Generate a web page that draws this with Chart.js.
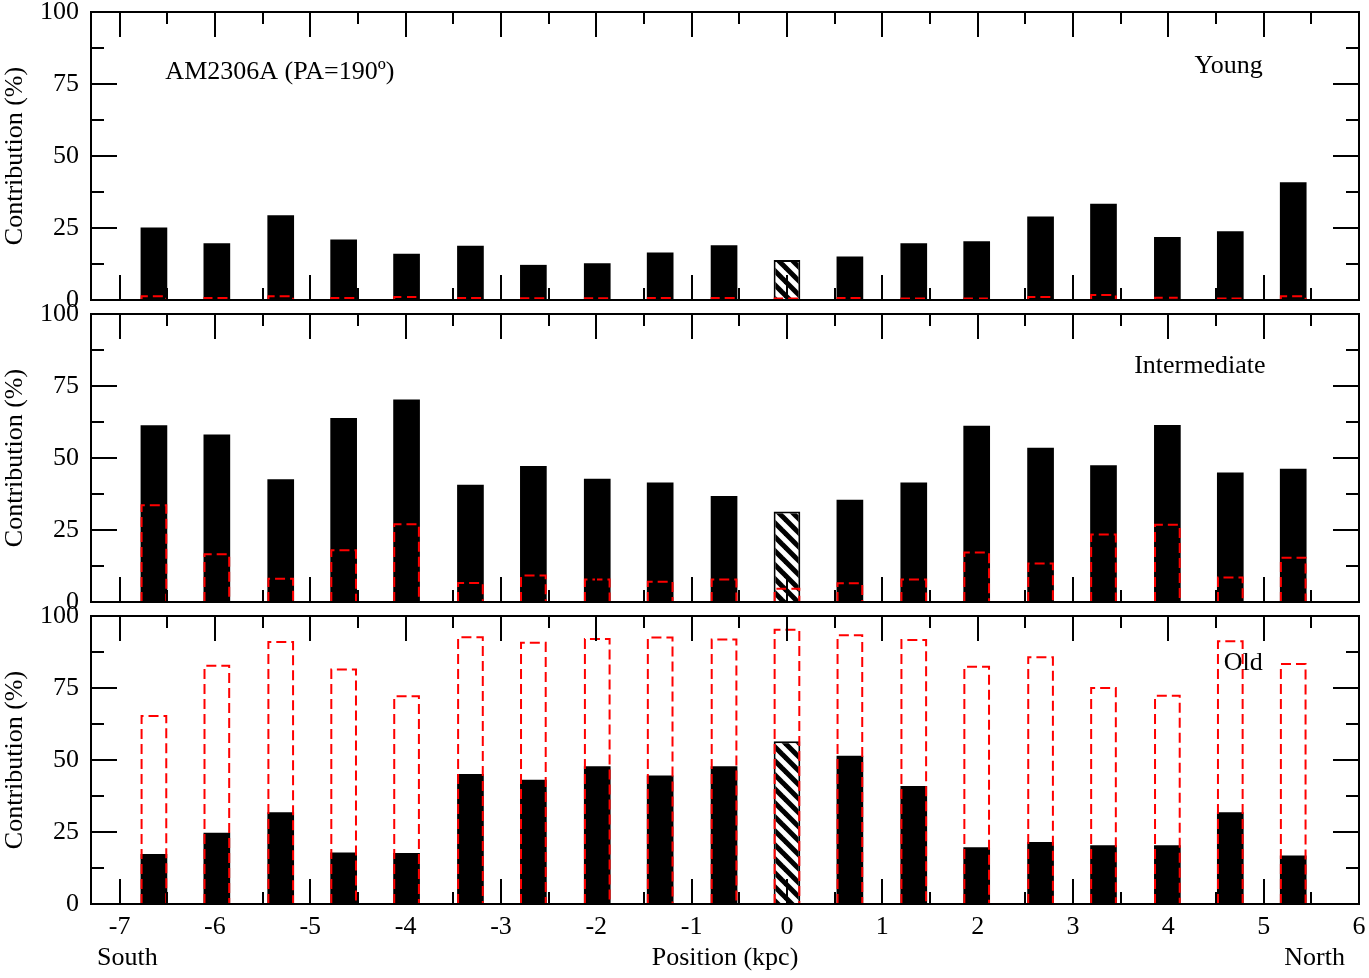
<!DOCTYPE html>
<html>
<head>
<meta charset="utf-8">
<title>AM2306A contribution profile</title>
<script src="https://cdn.jsdelivr.net/npm/chart.js@4"></script>
<style>
    body { margin: 0; background: #fff; }
    #wrap { position: relative; width: 1369px; height: 978px; }
    #wrap canvas { position: absolute; left: 0; top: 0; }
</style>
</head>
<body>
<div id="wrap">
    <canvas id="young-chart" width="1369" height="978"></canvas>
    <canvas id="inter-chart" width="1369" height="978"></canvas>
    <canvas id="old-chart" width="1369" height="978"></canvas>
</div>
<script>
// Bin positions along the slit (kpc)
const positions = [-6.64, -5.98, -5.31, -4.65, -3.99, -3.32, -2.66, -1.99, -1.33, -0.66,
                   0, 0.66, 1.33, 1.99, 2.66, 3.32, 3.99, 4.65, 5.31];

// Young population (black bars) and the dashed red comparison
const youngValues = [25.2, 19.7, 29.4, 21.0, 16.1, 18.8, 12.2, 12.8, 16.5, 19.0,
                     13.9, 15.1, 19.7, 20.4, 29.0, 33.4, 21.9, 23.9, 40.9];
const youngDashed = [1.3, 0.7, 1.3, 0.7, 1.0, 0.7, 0.6, 0.6, 0.7, 0.7,
                     0.5, 0.7, 0.5, 0.5, 1.0, 1.7, 0.8, 0.5, 1.3];

// Intermediate population
const interValues = [61.4, 58.2, 42.6, 63.9, 70.3, 40.7, 47.2, 42.8, 41.5, 36.8,
                     31.4, 35.5, 41.5, 61.2, 53.6, 47.5, 61.5, 45.0, 46.3];
const interDashed = [33.6, 16.6, 8.1, 18.0, 27.0, 6.6, 9.2, 7.8, 7.0, 7.8,
                     4.6, 6.5, 7.8, 17.2, 13.4, 23.4, 26.8, 8.5, 15.4];

// Old population
const oldValues = [17.4, 24.7, 31.9, 17.9, 17.7, 45.1, 43.1, 47.8, 44.6, 47.8,
                   56.5, 51.5, 41.0, 19.7, 21.5, 20.4, 20.4, 31.9, 16.8];
const oldDashed = [65.3, 82.7, 91.0, 81.4, 72.1, 92.6, 90.7, 92.0, 92.5, 91.8,
                   95.2, 93.3, 91.7, 82.4, 85.7, 75.0, 72.3, 91.2, 83.3];

// Axis ticks
const xTicks = [-7, -6, -5, -4, -3, -2, -1, 0, 1, 2, 3, 4, 5, 6];
const yTicks = [0, 25, 50, 75, 100];

document.addEventListener('DOMContentLoaded', function() {
    const serif = "'Liberation Serif', 'Times New Roman', serif";
    Chart.defaults.font.family = serif;
    Chart.defaults.color = '#000';

    const centerIndex = positions.indexOf(0);

    // diagonal black/white hatch for the nucleus bin
    function makeHatch() {
        const size = 14;
        const tile = document.createElement('canvas');
        tile.width = size;
        tile.height = size;
        const g = tile.getContext('2d');
        g.fillStyle = '#fff';
        g.fillRect(0, 0, size, size);
        g.strokeStyle = '#000';
        g.lineWidth = 5;
        [-size, 0, size].forEach(function(o) {
            g.beginPath();
            g.moveTo(o - 3, -3);
            g.lineTo(o + size + 3, size + 3);
            g.stroke();
        });
        return g.createPattern(tile, 'repeat');
    }
    const hatch = makeHatch();

    // frame, inward ticks, dashed bars and panel labels
    const framePlugin = {
        id: 'frame',
        afterDatasetsDraw(chart) {
            const ctx = chart.ctx;
            const area = chart.chartArea;
            const meta = chart.getDatasetMeta(1);
            ctx.save();
            ctx.beginPath();
            ctx.rect(area.left, area.top, area.right - area.left, area.bottom - area.top);
            ctx.clip();
            ctx.strokeStyle = '#ff0000';
            ctx.lineWidth = 2;
            ctx.setLineDash([10, 5]);
            meta.data.forEach(function(bar) {
                const p = bar.getProps(['x', 'y', 'base', 'width'], true);
                const l = p.x - p.width / 2 + 1;
                const r = p.x + p.width / 2 - 1;
                ctx.beginPath();
                ctx.moveTo(l, p.base);
                ctx.lineTo(l, p.y);
                ctx.lineTo(r, p.y);
                ctx.lineTo(r, p.base);
                ctx.stroke();
            });
            ctx.restore();
        },
        afterDraw(chart, args, opts) {
            const ctx = chart.ctx;
            const a = chart.chartArea;
            const xs = chart.scales.x;
            const ys = chart.scales.y;
            ctx.save();
            ctx.strokeStyle = '#000';
            ctx.lineWidth = 2;
            ctx.setLineDash([]);
            ctx.strokeRect(a.left, a.top, a.right - a.left, a.bottom - a.top);

            ctx.beginPath();
            for (let v = -7; v <= 6; v += 0.5) {
                const px = Math.round(xs.getPixelForValue(v));
                const len = Number.isInteger(v) ? 25 : 12;
                ctx.moveTo(px, a.top);
                ctx.lineTo(px, a.top + len);
                ctx.moveTo(px, a.bottom);
                ctx.lineTo(px, a.bottom - len);
            }
            for (let v = 12.5; v < 100; v += 12.5) {
                const py = Math.round(ys.getPixelForValue(v));
                const len = v % 25 === 0 ? 26 : 13;
                ctx.moveTo(a.left, py);
                ctx.lineTo(a.left + len, py);
                ctx.moveTo(a.right, py);
                ctx.lineTo(a.right - len, py);
            }
            ctx.stroke();

            ctx.fillStyle = '#000';
            ctx.font = '26px ' + serif;
            ctx.textBaseline = 'middle';
            (opts.labels || []).forEach(function(lb) {
                ctx.textAlign = lb.align;
                ctx.fillText(lb.text, xs.getPixelForValue(lb.x), ys.getPixelForValue(lb.y));
            });
            if (opts.ends) {
                ctx.textAlign = 'left';
                ctx.fillText('South', 97, 958);
                ctx.textAlign = 'right';
                ctx.fillText('North', 1345, 958);
            }
            ctx.restore();
        }
    };

    function makePanel(canvasId, values, dashed, top, bottom, isBottom, labels) {
        const points = positions.map(function(x, i) { return {x: x, y: values[i]}; });
        const dashedPoints = positions.map(function(x, i) { return {x: x, y: dashed[i]}; });
        return new Chart(document.getElementById(canvasId), {
            type: 'bar',
            data: {
                datasets: [{
                    data: points,
                    grouped: false,
                    backgroundColor: function(c) { return c.dataIndex === centerIndex ? hatch : '#000'; },
                    borderColor: '#000',
                    borderWidth: function(c) { return c.dataIndex === centerIndex ? 2 : 0; },
                    categoryPercentage: 1,
                    barPercentage: 0.424
                }, {
                    data: dashedPoints,
                    grouped: false,
                    backgroundColor: 'rgba(0,0,0,0)',
                    borderWidth: 0,
                    categoryPercentage: 1,
                    barPercentage: 0.424
                }]
            },
            options: {
                responsive: false,
                animation: false,
                devicePixelRatio: 1,
                layout: {
                    padding: {left: 0, right: 10, top: top, bottom: isBottom ? 0 : 978 - bottom}
                },
                plugins: {
                    legend: {display: false},
                    tooltip: {enabled: false},
                    frame: {labels: labels, ends: isBottom}
                },
                scales: {
                    x: {
                        type: 'linear',
                        offset: false,
                        min: -7.3,
                        max: 6,
                        afterBuildTicks: function(s) { s.ticks = xTicks.map(function(v) { return {value: v}; }); },
                        afterFit: function(s) {
                            s.height = isBottom ? 978 - bottom : 0;
                            s.paddingLeft = 0;
                            s.paddingRight = 0;
                        },
                        grid: {display: false, drawTicks: false, offset: false},
                        border: {display: false},
                        ticks: {display: isBottom, padding: 8, font: {size: 26}, color: '#000'},
                        title: {
                            display: isBottom,
                            text: 'Position (kpc)',
                            font: {size: 26},
                            color: '#000',
                            padding: {top: 0, bottom: 4.4}
                        }
                    },
                    y: {
                        min: 0,
                        max: 100,
                        afterBuildTicks: function(s) { s.ticks = yTicks.map(function(v) { return {value: v}; }); },
                        afterFit: function(s) {
                            s.width = 91;
                            s.paddingTop = 0;
                            s.paddingBottom = 0;
                        },
                        grid: {display: false, drawTicks: false},
                        border: {display: false},
                        ticks: {padding: 12, font: {size: 26}, color: '#000'},
                        title: {
                            display: true,
                            text: 'Contribution (%)',
                            font: {size: 26},
                            color: '#000',
                            padding: {top: 0, bottom: 0}
                        }
                    }
                }
            },
            plugins: [framePlugin]
        });
    }

    makePanel('young-chart', youngValues, youngDashed, 12, 300, false, [
        {text: 'AM2306A (PA=190\u00BA)', x: -6.52, y: 79.1, align: 'left'},
        {text: 'Young', x: 4.99, y: 81.2, align: 'right'}
    ]);
    makePanel('inter-chart', interValues, interDashed, 314, 602, false, [
        {text: 'Intermediate', x: 5.02, y: 82.0, align: 'right'}
    ]);
    makePanel('old-chart', oldValues, oldDashed, 616, 904, true, [
        {text: 'Old', x: 4.99, y: 83.7, align: 'right'}
    ]);
});
</script>
</body>
</html>
